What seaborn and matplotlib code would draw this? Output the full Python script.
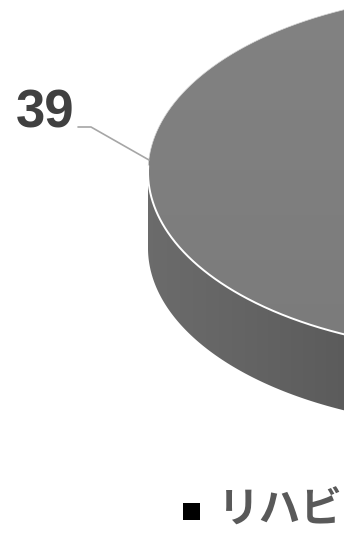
import numpy as np
import matplotlib
matplotlib.use("Agg")
import matplotlib.pyplot as plt
from matplotlib.patches import Polygon, Rectangle
import seaborn as sns

# ---- data ----
categories = ["リハビ"]
values = [39]
total = 100
label_texts = ["39"]

sns.set_theme(style="white")
plt.rcParams['font.family'] = ['Noto Sans CJK JP', 'DejaVu Sans']

W, H = 344, 537
fig = plt.figure(figsize=(W / 100, H / 100), dpi=100)
ax = fig.add_axes([0, 0, 1, 1])
ax.set_xlim(0, W)
ax.set_ylim(H, 0)
ax.axis('off')

# pie geometry (pixel layout)
cx, cy, a, b, depth = 487, 172, 339, 179, 76
mid = 180.0
span = values[0] / total * 360.0
t1, t2 = mid - span / 2, mid + span / 2


def ell(t, dy=0.0):
    t = np.radians(t)
    return np.column_stack([cx + a * np.cos(t), cy - b * np.sin(t) + dy])


# side wall (front, 180..t2)
ts = np.linspace(180, t2, 200)
side_pts = np.vstack([ell(ts), ell(ts[::-1], depth)])
side = Polygon(side_pts, closed=True, facecolor='none', edgecolor='none')
ax.add_patch(side)
gx = np.linspace(0, 1, 256)
side_grad = np.tile(gx, (10, 1))
side_cmap = matplotlib.colors.LinearSegmentedColormap.from_list(
    "side", ["#6c6c6c", "#646464", "#5b5b5b"])
im = ax.imshow(side_grad, extent=[140, 350, 430, 160], cmap=side_cmap,
               aspect='auto', zorder=1, interpolation='bilinear')
im.set_clip_path(side)

# top wedge
tt = np.linspace(t1, t2, 300)
top_pts = np.vstack([[cx, cy], ell(tt)])
top = Polygon(top_pts, closed=True, facecolor='none', edgecolor='none')
ax.add_patch(top)
gy = np.linspace(0, 1, 256)
top_grad = np.tile(gy[:, None], (1, 10))
top_cmap = matplotlib.colors.LinearSegmentedColormap.from_list(
    "top", ["#828282", "#7f7f7f", "#7b7b7b"])
im2 = ax.imshow(top_grad, extent=[140, 350, 350, -10], cmap=top_cmap,
                aspect='auto', zorder=2, interpolation='bilinear')
im2.set_clip_path(top)

# white slice border (front edge) and faint back edge
ef = ell(np.linspace(178, t2, 300))
ax.plot(ef[:, 0], ef[:, 1], color='white', lw=1.4, zorder=3, solid_capstyle='round')
eb = ell(np.linspace(t1, 178, 300))
ax.plot(eb[:, 0], eb[:, 1], color='#d8d8d8', lw=0.5, zorder=3)

# leader line and data label
lx, ly = ell(mid)[0]
ax.plot([78, 91, lx + 1], [127, 127, ly - 12], color='#a6a6a6', lw=1.2, zorder=4)
ax.text(74, 127, label_texts[0], ha='right', va='baseline', fontsize=38,
        fontweight='bold', color='#404040', family=['Liberation Sans', 'DejaVu Sans'],
        zorder=5)

# legend
ax.add_patch(Rectangle((183, 503), 17, 17, facecolor='black', edgecolor='none', zorder=5))
ax.text(218, 511, categories[0], ha='left', va='center', fontsize=30,
        color='#595959', fontweight='bold', zorder=5)

fig.savefig("out.png", dpi=100)
